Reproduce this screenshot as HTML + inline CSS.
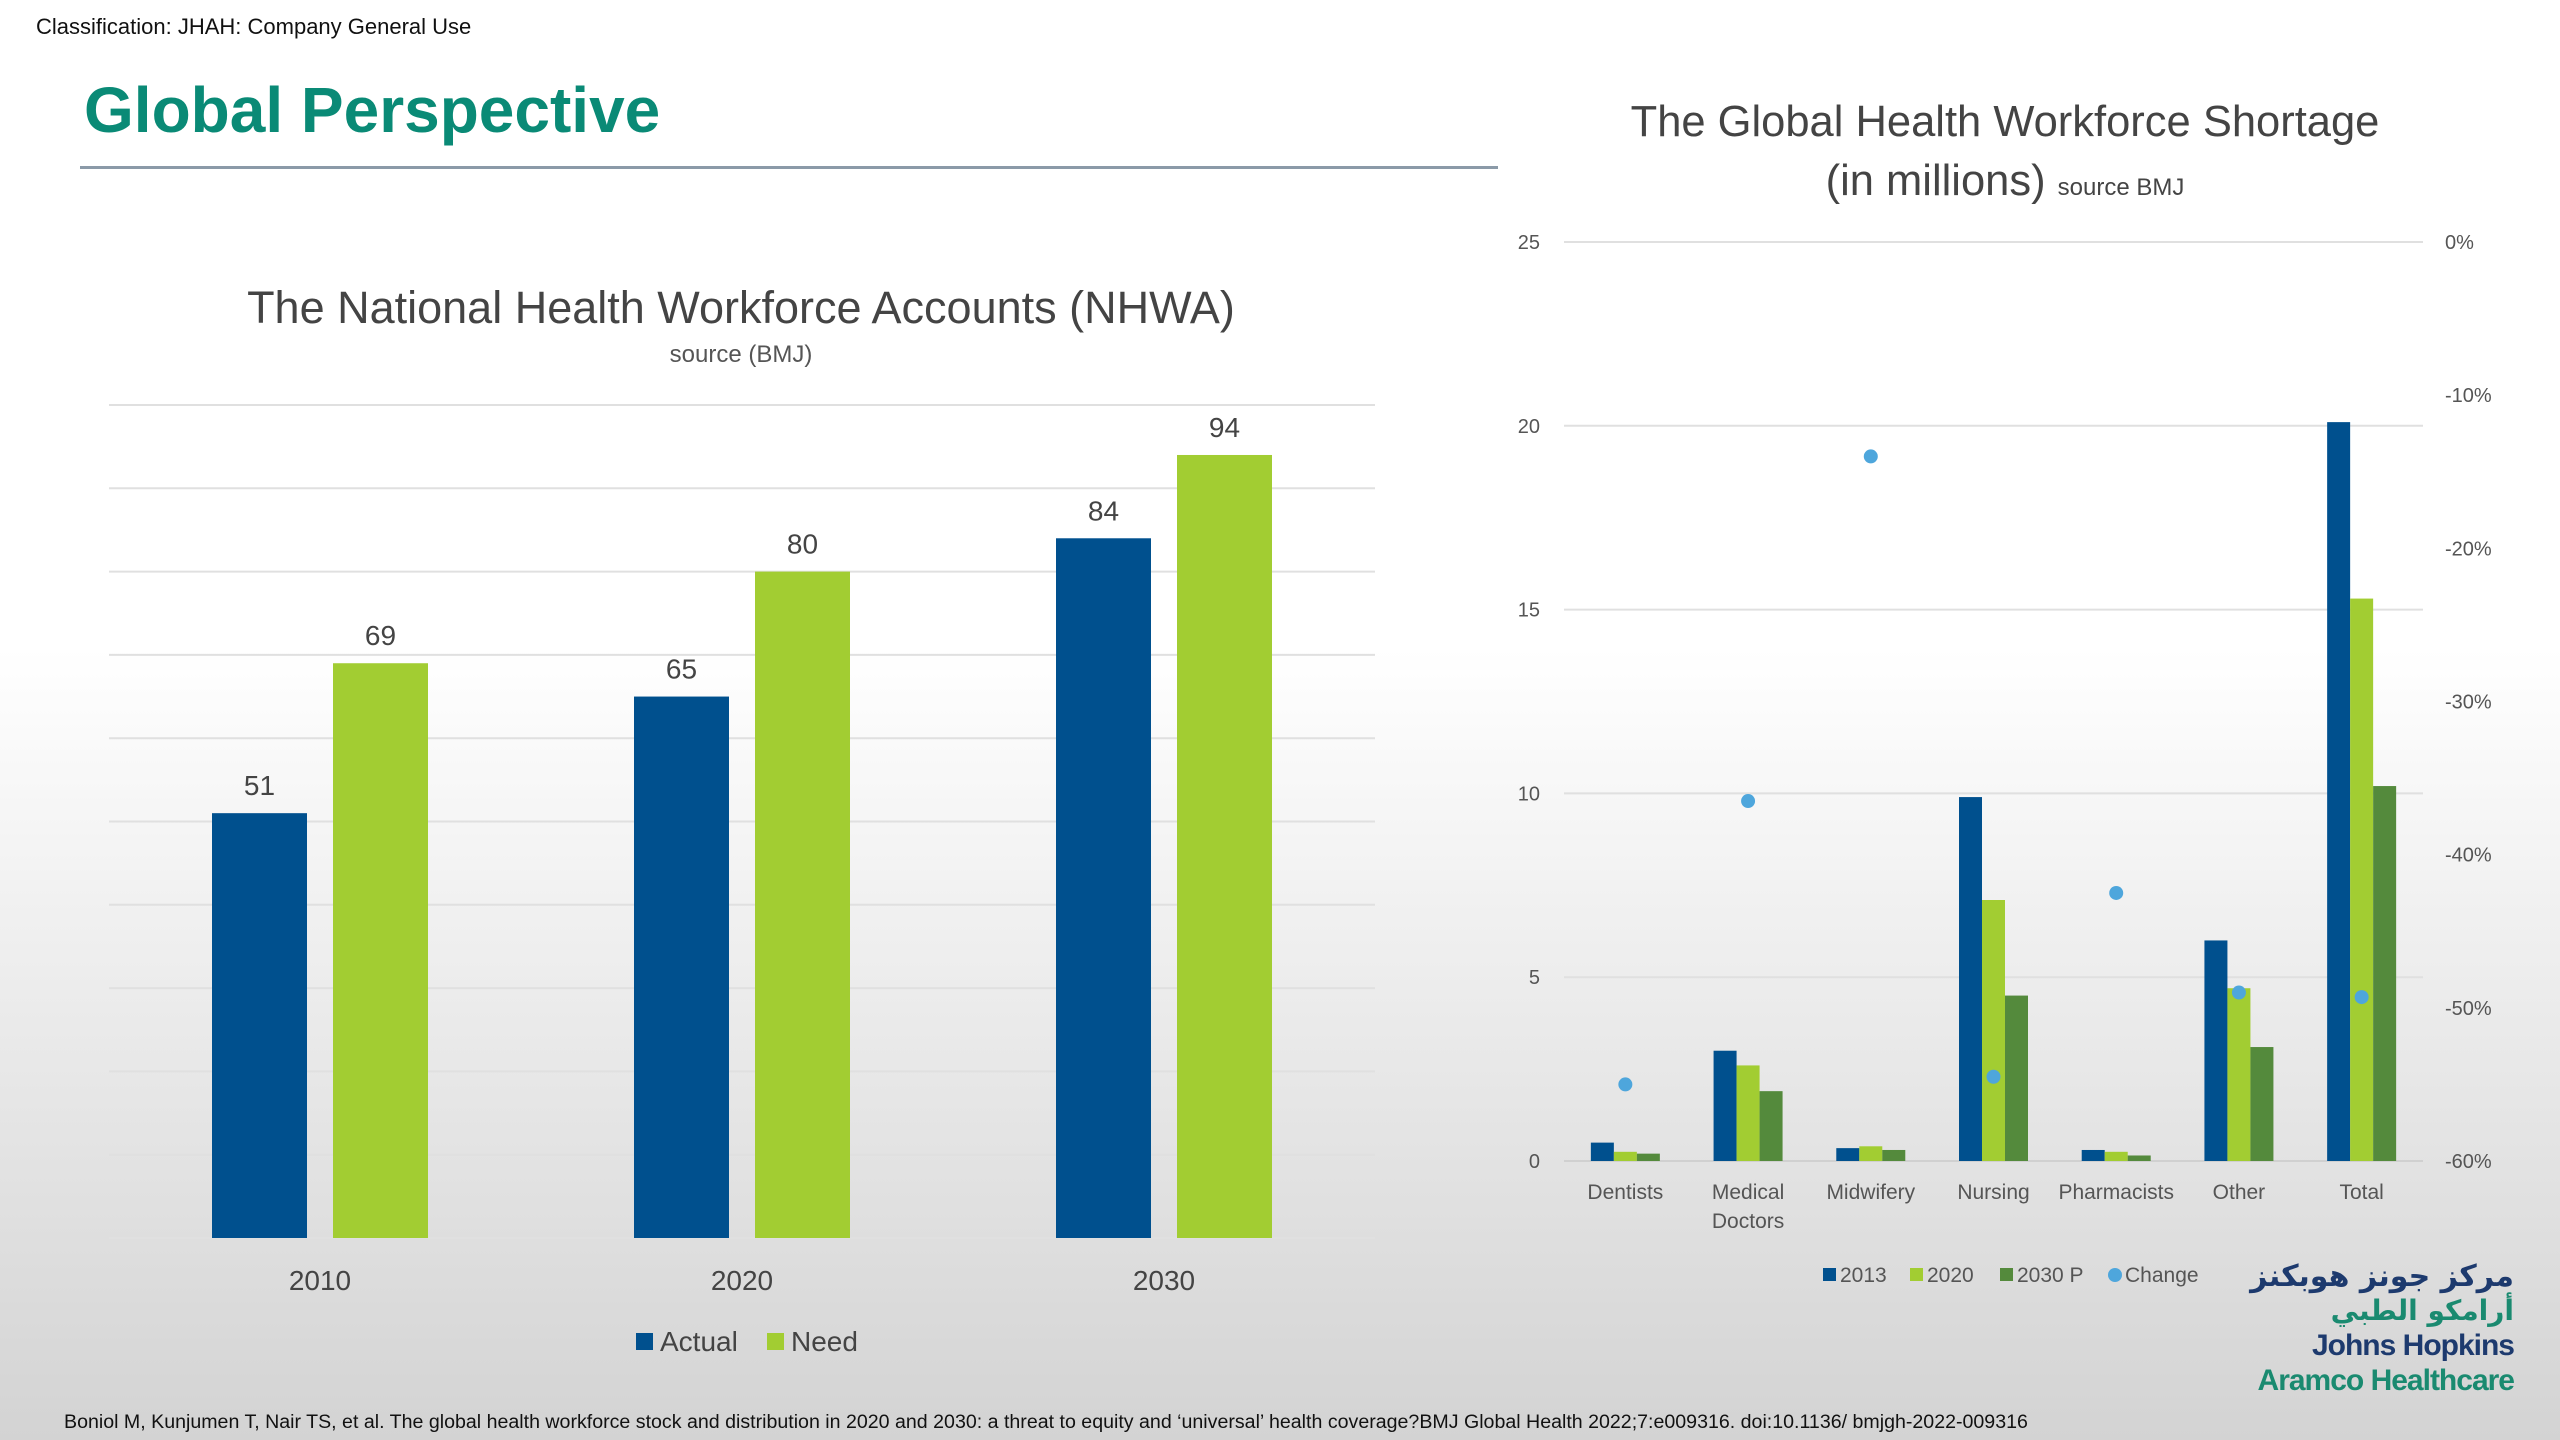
<!DOCTYPE html>
<html><head><meta charset="utf-8"><style>
html,body{margin:0;padding:0;width:2560px;height:1440px;overflow:hidden}
svg{display:block;font-family:"Liberation Sans","Noto Sans CJK SC",sans-serif}
</style></head><body>
<svg id="s" width="2560" height="1440" viewBox="0 0 2560 1440" xmlns="http://www.w3.org/2000/svg">
<defs><linearGradient id="bg" x1="0" y1="0" x2="0" y2="1">
<stop offset="0" stop-color="#ffffff"/><stop offset="0.45" stop-color="#ffffff"/><stop offset="1" stop-color="#d3d3d3"/></linearGradient></defs>
<rect width="2560" height="1440" fill="url(#bg)"/>
<text x="36" y="34" font-size="22" fill="#111">Classification: JHAH: Company General Use</text>
<text x="84" y="132" font-size="64" font-weight="bold" fill="#0a8a76">Global Perspective</text>
<rect x="80" y="166" width="1418" height="3" fill="#8b9aa8"/>
<text x="741" y="323" font-size="45" fill="#444" text-anchor="middle">The National Health Workforce Accounts (NHWA)</text>
<text x="741" y="362" font-size="24" fill="#555" text-anchor="middle">source (BMJ)</text>
<text x="2005" y="136" font-size="43.5" fill="#444" text-anchor="middle">The Global Health Workforce Shortage</text>
<text x="2005" y="195" font-size="43.5" fill="#444" text-anchor="middle">(in millions) <tspan font-size="24">source BMJ</tspan></text>
<g id="left"></g>
<g id="right"></g>
<text x="64" y="1428" font-size="19.6" fill="#111">Boniol M, Kunjumen T, Nair TS, et al. The global health workforce stock and distribution in 2020 and 2030: a threat to equity and ‘universal’ health coverage?BMJ Global Health 2022;7:e009316. doi:10.1136/ bmjgh-2022-009316</text>
<g text-anchor="end" font-weight="bold" letter-spacing="-1">
<text x="2514" y="1286" font-size="30" fill="#1d3a6e" font-family="'DejaVu Sans',sans-serif">مركز جونز هوبكنز</text>
<text x="2514" y="1320" font-size="28" fill="#1a8a70" font-family="'DejaVu Sans',sans-serif">أرامكو الطبي</text>
<text x="2514" y="1355" font-size="30" fill="#1d3a6e">Johns Hopkins</text>
<text x="2514" y="1390" font-size="30" fill="#1a8a70">Aramco Healthcare</text>
</g>
</svg>
<script>
const NS="http://www.w3.org/2000/svg";
// Left chart data
const nhwaYears=["2010","2020","2030"];
const nhwaActual=[51,65,84];
const nhwaNeed=[69,80,94];
// Right chart data
const shortCats=["Dentists","Medical|Doctors","Midwifery","Nursing","Pharmacists","Other","Total"];
const short2013=[0.5,3.0,0.35,9.9,0.3,6.0,20.1];
const short2020=[0.25,2.6,0.4,7.1,0.25,4.7,15.3];
const short2030=[0.2,1.9,0.3,4.5,0.15,3.1,10.2];
const shortChange=[-55,-36.5,-14,-54.5,-42.5,-49,-49.3];
const leftTicks=[0,10,20,30,40,50,60,70,80,90,100];
const rightTicks=[0,5,10,15,20,25];
const pctTicks=[0,-10,-20,-30,-40,-50,-60];

function mk(parent,tag,attrs,txt){const e=document.createElementNS(NS,tag);for(const k in attrs)e.setAttribute(k,attrs[k]);if(txt!==undefined)e.textContent=txt;parent.appendChild(e);return e;}

// LEFT
const L=document.getElementById('left');
const lx0=109,lx1=1375,ly0=1238,ly1=405;
const ly=v=>ly0-(v/100)*(ly0-ly1);
const band=(lx1-lx0)/nhwaYears.length;
leftTicks.forEach(t=>{const g=mk(L,'line',{x1:lx0,x2:lx1,y1:ly(t),y2:ly(t),stroke:'#e0e0e0','stroke-width':2});

});
const bw=95,gap=26;
nhwaYears.forEach((yr,i)=>{
 const c=lx0+band*(i+0.5);
 const xa=c-gap/2-bw, xn=c+gap/2;
 const a=mk(L,'rect',{x:xa,y:ly(nhwaActual[i]),width:bw,height:ly0-ly(nhwaActual[i]),fill:'#00508e'});
 
 
 const n=mk(L,'rect',{x:xn,y:ly(nhwaNeed[i]),width:bw,height:ly0-ly(nhwaNeed[i]),fill:'#a2cd32'});
 
 
 const la=mk(L,'text',{x:xa+bw/2,y:ly(nhwaActual[i])-18,'font-size':28,fill:'#444','text-anchor':'middle'},String(nhwaActual[i]));
 
 
 const ln=mk(L,'text',{x:xn+bw/2,y:ly(nhwaNeed[i])-18,'font-size':28,fill:'#444','text-anchor':'middle'},String(nhwaNeed[i]));
 
 
 const cl=mk(L,'text',{x:c,y:1290,'font-size':28,fill:'#444','text-anchor':'middle'},yr);
 
 
});
[['Actual','#00508e',636],['Need','#a2cd32',767]].forEach(([n,c,x])=>{
 const g=mk(L,'g',{});
 
 
 mk(g,'rect',{x:x,y:1333,width:17,height:17,fill:c});
 mk(g,'text',{x:x+24,y:1351,'font-size':28,fill:'#444'},n);
});

// RIGHT
const R=document.getElementById('right');
const rx0=1564,rx1=2423,ry0=1161,ry1=242;
const ry=v=>ry0-(v/25)*(ry0-ry1);
const rp=p=>ry1+(-p/60)*(ry0-ry1);
rightTicks.forEach(t=>{
 const g=mk(R,'line',{x1:rx0,x2:rx1,y1:ry(t),y2:ry(t),stroke:t===0?'#d0d0d0':'#e0e0e0','stroke-width':2});
 
 
 const l=mk(R,'text',{x:1540,y:ry(t)+7,'font-size':20,fill:'#555','text-anchor':'end'},String(t));
 
 
});
pctTicks.forEach(p=>{
 const l=mk(R,'text',{x:2445,y:rp(p)+7,'font-size':20,fill:'#555'},p+'%');
 
 
});
const rband=(rx1-rx0)/shortCats.length, rbw=23;
const series=[[short2013,'#00508e','2013'],[short2020,'#a2cd32','2020'],[short2030,'#548a3c','2030p']];
shortCats.forEach((cat,i)=>{
 const c=rx0+rband*(i+0.5);
 series.forEach(([arr,col,nm],j)=>{
  const b=mk(R,'rect',{x:c-1.5*rbw+j*rbw,y:ry(arr[i]),width:rbw,height:ry0-ry(arr[i]),fill:col});
  
  
 });
 const parts=cat.split('|');
 parts.forEach((p,k)=>{
  const t=mk(R,'text',{x:c,y:1199+k*29,'font-size':21,fill:'#555','text-anchor':'middle'},p);
  
  
 });
});
shortCats.forEach((cat,i)=>{
 const c=rx0+rband*(i+0.5);
 const d=mk(R,'circle',{cx:c,cy:rp(shortChange[i]),r:7,fill:'#4ea6dc'});
 
 
});
[['2013','#00508e',1823,'rect'],['2020','#a2cd32',1910,'rect'],['2030 P','#548a3c',2000,'rect'],['Change','#4ea6dc',2108,'circle']].forEach(([n,c,x,sh])=>{
 const g=mk(R,'g',{});
 
 
 if(sh==='rect')mk(g,'rect',{x:x,y:1268,width:13,height:13,fill:c});
 else mk(g,'circle',{cx:x+7,cy:1275,r:7,fill:c});
 mk(g,'text',{x:x+17,y:1282,'font-size':21,fill:'#555'},n);
});
</script>
</body></html>
